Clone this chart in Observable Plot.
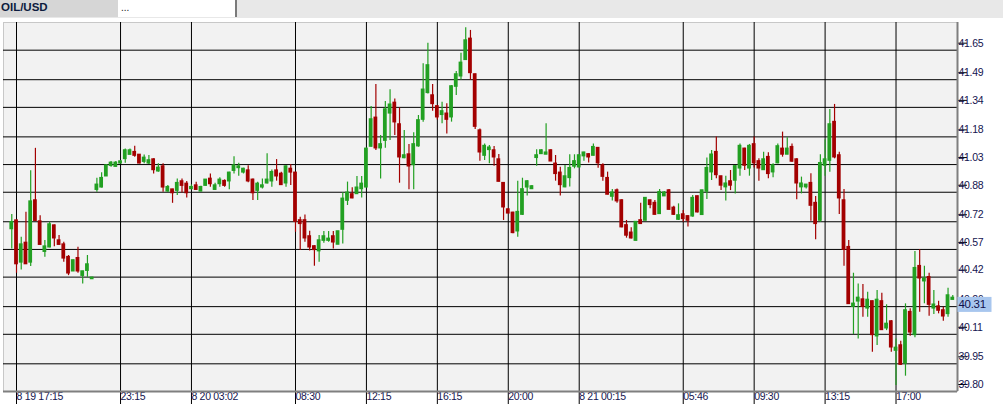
<!DOCTYPE html>
<html><head><meta charset="utf-8">
<script src="https://cdn.jsdelivr.net/npm/d3@7"></script>
<script src="https://cdn.jsdelivr.net/npm/@observablehq/plot@0.6"></script>
<style>
html,body{margin:0;padding:0;background:#fff;width:1003px;height:417px;overflow:hidden}
#hdr{position:relative;height:18px;background:#e8e8e8;font-family:"Liberation Sans",Arial,sans-serif}
#tab{position:absolute;left:0;top:0;width:118px;height:17px;background:#d6d6d6;font-weight:bold;font-size:11.5px;color:#0d1b3e;line-height:15px;padding-left:1px;box-sizing:border-box}
#box{position:absolute;left:118px;top:0;width:119px;height:17px;background:#fff;border-right:2px solid #7a7a7a;font-size:10px;line-height:15px;padding-left:3px;box-sizing:border-box;color:#222}
#chart{height:399px}
#chart svg text{letter-spacing:-0.3px}
</style></head>
<body>
<div id="hdr"><div id="tab">OIL/USD</div><div id="box">...</div></div>
<div id="chart"></div>
<script>
// ---- data (OHLC, one candle per index) ----
const openP = [40.681,40.726,40.500,40.605,40.500,40.835,40.721,40.558,40.582,40.699,40.618,40.596,40.528,40.452,40.522,40.428,40.455,40.410,
40.894,40.907,40.967,41.024,41.019,41.037,41.061,41.084,41.097,41.082,41.046,41.037,41.057,40.994,41.019,40.885,40.894,40.889,40.938,40.925,40.898,
40.916,40.885,40.916,40.952,40.894,40.925,40.940,40.940,40.997,41.012,40.988,40.997,40.947,40.889,40.907,40.929,40.940,40.997,40.979,40.929,41.006,
40.985,40.727,40.727,40.640,40.586,40.561,40.618,40.618,40.640,40.597,40.678,40.835,40.868,40.871,40.898,40.907,41.128,41.283,41.119,41.160,41.308,
41.364,41.247,41.066,41.084,41.028,41.130,41.274,41.419,41.404,41.345,41.300,41.305,41.287,41.453,41.509,41.598,41.711,41.518,41.214,41.079,41.110,
41.106,41.057,40.929,40.786,40.768,40.669,40.759,40.907,40.898,41.067,41.088,41.085,41.106,41.034,40.985,40.908,40.958,41.020,41.016,41.076,41.085,
41.079,41.119,41.025,40.956,40.857,40.889,40.835,40.700,40.660,40.618,40.727,40.727,40.835,40.821,40.763,40.859,40.889,40.795,40.732,40.759,40.749,
40.750,40.857,40.758,40.884,40.989,41.097,40.965,40.908,40.938,40.944,41.010,41.115,41.010,41.139,41.047,41.001,41.070,40.989,41.038,41.115,41.085,
41.124,41.057,40.908,40.908,40.929,40.821,40.727,41.025,41.052,41.260,41.079,40.835,40.582,40.260,40.289,40.298,40.251,40.288,40.100,40.288,40.143,
40.179,40.022,40.049,39.953,40.230,40.107,40.479,40.398,40.419,40.251,40.260,40.239,40.221,40.298];
const highP = [40.759,40.730,40.636,40.771,40.997,41.118,40.753,40.618,40.717,40.702,40.645,40.609,40.537,40.513,40.582,40.452,40.537,40.419,
40.956,40.985,41.030,41.046,41.046,41.052,41.115,41.115,41.129,41.084,41.082,41.079,41.061,41.034,41.034,40.916,40.896,40.952,40.952,40.938,40.920,
40.934,40.912,40.949,40.979,40.929,40.958,40.947,40.989,41.073,41.037,41.010,41.024,40.952,40.934,40.952,41.088,41.001,41.057,40.988,41.024,41.030,
40.988,40.745,40.757,40.669,40.590,40.645,40.667,40.667,40.667,40.669,40.877,40.935,40.904,40.965,40.965,41.119,41.345,41.464,41.187,41.372,41.435,
41.386,41.337,41.214,41.139,41.202,41.296,41.576,41.688,41.464,41.350,41.368,41.359,41.458,41.534,41.634,41.771,41.757,41.521,41.223,41.142,41.133,
41.128,41.084,40.932,40.790,40.772,40.940,40.956,40.943,40.917,41.110,41.110,41.251,41.110,41.079,41.016,41.025,41.083,41.083,41.083,41.097,41.088,
41.142,41.121,41.034,40.989,40.895,40.898,40.839,40.727,40.687,40.722,40.821,40.850,40.837,40.835,40.895,40.884,40.895,40.804,40.817,40.781,40.752,
40.862,40.859,40.891,41.065,41.106,41.179,40.967,40.967,40.998,41.025,41.142,41.119,41.139,41.179,41.061,41.097,41.094,41.034,41.142,41.206,41.175,
41.142,41.061,40.962,40.922,40.980,40.857,41.083,41.164,41.328,41.356,41.097,40.895,40.618,40.441,40.383,40.380,40.338,40.290,40.347,40.333,40.270,
40.185,40.085,40.073,40.275,40.248,40.559,40.568,40.479,40.441,40.347,40.289,40.257,40.360,40.320];
const lowP = [40.573,40.441,40.459,40.488,40.477,40.722,40.596,40.528,40.579,40.585,40.596,40.500,40.428,40.450,40.441,40.383,40.419,40.408,
40.880,40.903,40.965,41.015,41.015,41.034,41.037,41.084,41.070,41.034,41.034,41.030,40.979,40.988,40.880,40.880,40.820,40.862,40.876,40.849,40.893,
40.892,40.883,40.914,40.907,40.892,40.907,40.907,40.894,40.979,40.967,40.979,40.931,40.835,40.835,40.898,40.925,40.907,40.940,40.916,40.907,40.916,
40.663,40.564,40.609,40.561,40.479,40.501,40.604,40.609,40.573,40.595,40.600,40.808,40.845,40.868,40.849,40.904,41.124,41.106,40.952,41.119,41.160,
41.187,40.929,41.061,40.893,40.893,41.124,41.260,41.413,41.319,41.272,41.251,41.196,41.260,41.404,41.489,41.595,41.486,41.220,41.048,41.052,41.034,
41.021,40.935,40.727,40.763,40.655,40.636,40.754,40.859,40.895,41.021,41.085,41.083,41.047,40.940,40.859,40.904,40.908,41.007,41.012,41.048,41.038,
41.077,41.010,40.940,40.866,40.832,40.821,40.687,40.631,40.627,40.616,40.705,40.725,40.790,40.757,40.761,40.857,40.784,40.754,40.727,40.718,40.691,
40.745,40.768,40.754,40.841,40.944,40.953,40.889,40.832,40.889,40.871,40.967,40.998,40.967,41.012,40.940,40.998,40.953,40.958,41.034,41.070,41.083,
41.043,40.839,40.871,40.898,40.723,40.622,40.718,40.967,40.989,41.061,40.759,40.479,40.271,40.109,40.085,40.203,40.203,40.013,40.049,40.130,40.130,
40.013,39.832,39.941,39.883,40.100,40.091,40.230,40.275,40.208,40.217,40.221,40.181,40.203,40.296];
const closeP = [40.717,40.491,40.596,40.491,40.829,40.726,40.596,40.585,40.705,40.631,40.596,40.522,40.441,40.510,40.452,40.450,40.488,40.416,
40.920,40.956,41.024,41.039,41.039,41.046,41.106,41.106,41.079,41.037,41.066,41.052,41.001,41.012,40.907,40.907,40.876,40.929,40.916,40.876,40.907,
40.894,40.907,40.947,40.925,40.916,40.947,40.916,40.985,41.024,41.019,41.006,40.940,40.876,40.925,40.916,40.947,40.988,40.967,40.920,41.019,40.988,
40.721,40.709,40.631,40.582,40.568,40.618,40.640,40.627,40.609,40.667,40.844,40.877,40.848,40.904,40.925,41.115,41.274,41.119,41.139,41.328,41.354,
41.260,41.070,41.079,41.021,41.139,41.269,41.435,41.567,41.359,41.287,41.318,41.274,41.453,41.518,41.581,41.702,41.527,41.236,41.097,41.130,41.121,
41.070,40.938,40.799,40.766,40.660,40.772,40.895,40.938,40.911,41.079,41.106,41.094,41.048,40.980,40.920,40.965,41.010,41.047,41.079,41.094,41.070,
41.124,41.038,40.965,40.868,40.877,40.832,40.691,40.646,40.631,40.718,40.709,40.848,40.812,40.759,40.880,40.877,40.786,40.759,40.754,40.736,40.727,
40.848,40.772,40.889,41.010,41.083,40.974,40.917,40.926,40.917,41.020,41.130,41.025,41.130,41.038,41.010,41.057,40.980,41.025,41.128,41.085,41.115,
41.047,40.929,40.926,40.920,40.808,40.709,41.037,41.057,41.247,41.070,40.848,40.569,40.275,40.275,40.307,40.260,40.296,40.107,40.296,40.134,40.166,
40.040,40.036,39.946,40.239,40.121,40.468,40.414,40.410,40.271,40.270,40.239,40.208,40.320,40.307];

// ---- axis labels ----
const yTickLabels = ["39.80","39.95","40.11","40.26","40.42","40.57","40.72","40.88","41.03","41.18","41.34","41.49","41.65"];
const xTickIdx = [1,23,38,60,75,90,105,120,142,157,172,187];
const xTickLabels = ["8 19 17:15","23:15","8 20 03:02","08:30","12:15","16:15","20:00","8 21 00:15","05:46","09:30","13:15","17:00"];
const lastPrice = 40.31;

const candles = openP.map((o, i) => ({i, o, h: highP[i], l: lowP[i], c: closeP[i]}));
const GREEN = "#22a022", RED = "#a30000";
const col = d => d.c >= d.o ? GREEN : RED;
const yTicks = yTickLabels.map(Number);
const xLab = new Map(xTickIdx.map((d, k) => [d, xTickLabels[k]]));

function lastPriceMark(index, scales, values, dimensions) {
  const ns = "http://www.w3.org/2000/svg";
  const ys = typeof scales.y === "function" ? scales.y : scales.scales.y;
  const y0 = ys(lastPrice);
  const x0 = dimensions.width - dimensions.marginRight;
  const g = document.createElementNS(ns, "g");
  const r = document.createElementNS(ns, "rect");
  r.setAttribute("x", x0 + 0.5); r.setAttribute("y", y0);
  r.setAttribute("width", 34); r.setAttribute("height", 15);
  r.setAttribute("fill", "#a8c6ee");
  g.appendChild(r);
  const t = document.createElementNS(ns, "text");
  t.setAttribute("x", x0 + 1.5); t.setAttribute("y", y0 + 7.5);
  t.setAttribute("dy", "0.35em");
  t.setAttribute("text-anchor", "start");
  t.setAttribute("fill", "#10104a");
  t.setAttribute("font-size", "11.5px");
  t.textContent = lastPrice.toFixed(2);
  g.appendChild(t);
  return g;
}

const chart = Plot.plot({
  width: 1003,
  height: 399,
  marginTop: 4,
  marginBottom: 26,
  marginLeft: 3,
  marginRight: 46,
  style: {background: "white", fontFamily: "'Liberation Sans', Arial, sans-serif", fontSize: "10.5px", color: "black", overflow: "visible"},
  x: {domain: [-1.75, 200], label: null},
  y: {domain: [39.80, 41.80], label: null},
  marks: [
    Plot.frame({fill: "#f2f2f2", stroke: "#c8c8c8"}),
    Plot.gridY({ticks: yTicks, stroke: "#000", strokeOpacity: 1, strokeWidth: 1}),
    Plot.gridX({ticks: xTickIdx, stroke: "#000", strokeOpacity: 1, strokeWidth: 1}),
    Plot.axisY({anchor: "right", ticks: yTicks, tickSize: 9, tickPadding: -8, dy: -7, label: null,
      tickFormat: d => yTickLabels[yTicks.indexOf(d)], stroke: "#000", fill: "#14144f"}),
    Plot.axisX({anchor: "bottom", ticks: xTickIdx, tickSize: 13, tickPadding: -12, textAnchor: "start", label: null,
      tickFormat: d => xLab.get(d), stroke: "#000", fill: "#14144f"}),
    Plot.ruleX(candles, {x: "i", y1: "l", y2: "h", stroke: col, strokeWidth: 1.2}),
    Plot.rect(candles, {
      x1: d => d.i - 0.4, x2: d => d.i + 0.4,
      y1: d => Math.min(d.o, d.c), y2: d => Math.max(d.o, d.c),
      fill: col, insetTop: -0.8, insetBottom: -0.8
    }),
    Plot.ruleX([200], {stroke: "#7f7f7f", strokeWidth: 2}),
    Plot.ruleY([39.80], {stroke: "#7f7f7f", strokeWidth: 2}),
    lastPriceMark
  ]
});
document.getElementById("chart").appendChild(chart);
</script>
</body></html>
